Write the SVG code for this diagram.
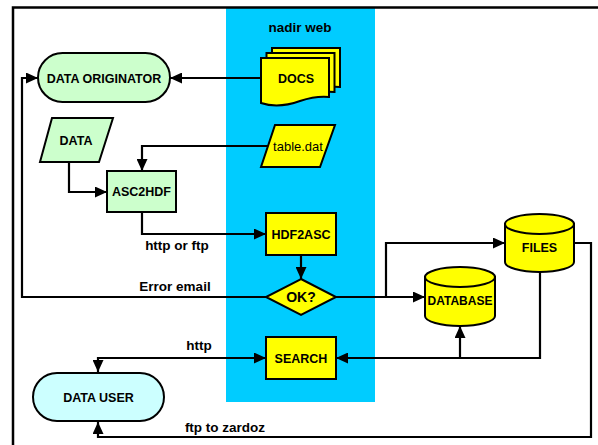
<svg xmlns="http://www.w3.org/2000/svg" width="598" height="445" viewBox="0 0 598 445">
<style>
.n{font-family:"Liberation Sans",Arial,sans-serif;font-weight:bold;font-size:12.5px;fill:#000;text-anchor:middle}
.l{font-family:"Liberation Sans",Arial,sans-serif;font-weight:bold;font-size:13.5px;fill:#000;text-anchor:middle}
.s{stroke:#000;stroke-width:2}
.c{fill:none;stroke:#000;stroke-width:2.2}
</style>
<defs>
<marker id="a" markerUnits="userSpaceOnUse" markerWidth="12" markerHeight="11" refX="12" refY="5.5" orient="auto-start-reverse"><path d="M0,0 L12,5.5 L0,11 Z" fill="#000"/></marker>
</defs>
<rect x="0" y="0" width="598" height="445" fill="#fff"/>
<rect x="226" y="7" width="149" height="395" fill="#00ccff"/>
<path d="M13,445 V7.5 H598" fill="none" stroke="#000" stroke-width="2.5"/>
<text x="300" y="32" class="n" style="font-size:13.5px">nadir web</text>

<g id="connectors">
<path class="c" d="M261,78 H170" marker-end="url(#a)"/>
<path class="c" d="M266,297 H22 V78 H38" marker-end="url(#a)"/>
<path class="c" d="M268,146 H142 V171" marker-end="url(#a)"/>
<path class="c" d="M69,162 V192 H107" marker-end="url(#a)"/>
<path class="c" d="M142,212 V234 H266" marker-end="url(#a)"/>
<path class="c" d="M301,255 V279" marker-end="url(#a)"/>
<path class="c" d="M336,297 H425" marker-end="url(#a)"/>
<path class="c" d="M386,297 V243 H505" marker-end="url(#a)"/>
<path class="c" d="M574,243 H591 V437 H98 V422" marker-end="url(#a)"/>
<path class="c" d="M540,272 V358 H336" marker-end="url(#a)"/>
<path class="c" d="M460,358 V326" marker-end="url(#a)"/>
<path class="c" d="M98,372 V358 H266" marker-start="url(#a)" marker-end="url(#a)"/>
<text x="177" y="250" class="l">http or ftp</text>
<text x="175" y="291" class="l">Error email</text>
<text x="199" y="350" class="l">http</text>
<text x="225" y="432" class="l">ftp to zardoz</text>
</g>

<g id="data-originator">
<rect x="38" y="53" width="132" height="49" rx="24.5" fill="#ccffcc" class="s"/>
<text x="104" y="82.5" class="n">DATA ORIGINATOR</text>
</g>
<g id="docs">
<path transform="translate(272,48)" d="M0,0 H68 V39 C58,38 48,40 39,43 C25,48 12,49 0,45 Z" fill="#ffff00" class="s"/>
<path transform="translate(266.5,53)" d="M0,0 H68 V39 C58,38 48,40 39,43 C25,48 12,49 0,45 Z" fill="#ffff00" class="s"/>
<path transform="translate(261,58)" d="M0,0 H68 V39 C58,38 48,40 39,43 C25,48 12,49 0,45 Z" fill="#ffff00" class="s"/>
<text x="296" y="82.5" class="n">DOCS</text>
</g>
<g id="data">
<path d="M52,118 H113 L99,162 H40 Z" fill="#ccffcc" class="s"/>
<text x="76" y="144.5" class="n">DATA</text>
</g>
<g id="table-dat">
<path d="M275,125 H335 L320,167 H261 Z" fill="#ffff00" class="s"/>
<text x="298" y="151" style="font-family:'Liberation Sans',Arial,sans-serif;font-size:13px;text-anchor:middle">table.dat</text>
</g>
<g id="asc2hdf">
<rect x="107" y="171" width="69" height="41" fill="#ccffcc" class="s"/>
<text x="141.5" y="196" class="n">ASC2HDF</text>
</g>
<g id="hdf2asc">
<rect x="266" y="213" width="70" height="42" fill="#ffff00" class="s"/>
<text x="301" y="238.5" class="n">HDF2ASC</text>
</g>
<g id="ok">
<path d="M301,279 L336,297 L301,315 L266,297 Z" fill="#ffff00" class="s"/>
<text x="301" y="302" class="n" style="font-size:14px">OK?</text>
</g>
<g id="database">
<path d="M425,277 V316 A35,10 0 0 0 495,316 V277 Z" fill="#ffff00" class="s"/>
<ellipse cx="460" cy="277" rx="35" ry="10" fill="#ffff00" class="s"/>
<text x="460" y="304.5" class="n" style="font-size:12px">DATABASE</text>
</g>
<g id="files">
<path d="M505,224 V262 A34.5,10 0 0 0 574,262 V224 Z" fill="#ffff00" class="s"/>
<ellipse cx="539.5" cy="224" rx="34.5" ry="10" fill="#ffff00" class="s"/>
<text x="539.5" y="252" class="n">FILES</text>
</g>
<g id="search">
<rect x="266" y="337" width="70" height="42" fill="#ffff00" class="s"/>
<text x="301" y="362.5" class="n">SEARCH</text>
</g>
<g id="data-user">
<rect x="33" y="373" width="131" height="48" rx="24" fill="#ccffff" class="s"/>
<text x="98.5" y="401.5" class="n">DATA USER</text>
</g>
</svg>
